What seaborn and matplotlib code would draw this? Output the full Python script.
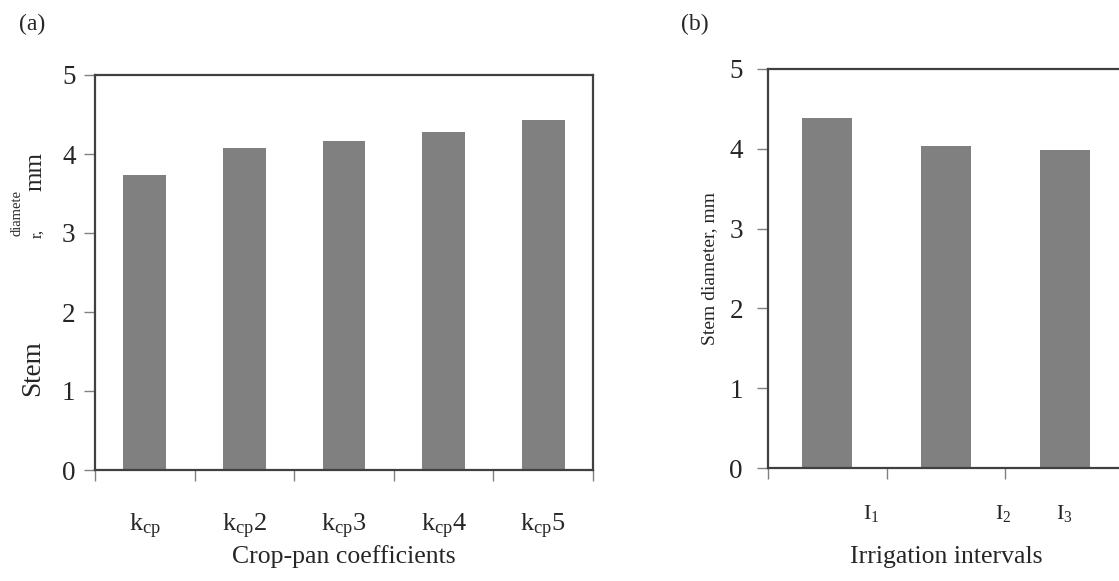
import matplotlib
matplotlib.use("Agg")
import matplotlib.pyplot as plt
import seaborn as sns
import pandas as pd

# ---- data ----
coef_labels = ["k$_{\\mathrm{cp}}$", "k$_{\\mathrm{cp}}$2", "k$_{\\mathrm{cp}}$3",
               "k$_{\\mathrm{cp}}$4", "k$_{\\mathrm{cp}}$5"]
coef_values = [3.73, 4.08, 4.16, 4.28, 4.43]

irr_labels = ["I$_{\\mathrm{1}}$", "I$_{\\mathrm{2}}$", "I$_{\\mathrm{3}}$"]
irr_values = [4.39, 4.04, 3.98]
irr_label_pos = [0.37, 1.48, 2.0]

yticks = [0, 1, 2, 3, 4, 5]

sns.set_theme(style="white")
plt.rcParams['font.family'] = ['Liberation Serif', 'DejaVu Serif']
plt.rcParams['mathtext.fontset'] = 'custom'
plt.rcParams['mathtext.rm'] = 'Liberation Serif'
plt.rcParams['mathtext.it'] = 'Liberation Serif:italic'

W, H = 1119, 581
fig = plt.figure(figsize=(W / 100, H / 100), dpi=100)

bar_color = "#808080"
spine_color = "#404040"
tick_color = "#808080"

def px_axes(l, t, r, b):
    return fig.add_axes([l / W, 1 - b / H, (r - l) / W, (b - t) / H])

# ---- panel (a) ----
ax1 = px_axes(95, 75, 593, 470)
df1 = pd.DataFrame({"cat": [str(i) for i in range(len(coef_values))], "val": coef_values})
sns.barplot(data=df1, x="cat", y="val", color=bar_color, saturation=1, width=0.43,
            ax=ax1, edgecolor="none")
ax1.set_xlim(-0.5, len(coef_values) - 0.5)
ax1.set_ylim(0, 5)
ax1.set_yticks(yticks)
ax1.set_yticklabels([str(v) for v in yticks], fontsize=19.5)
ax1.set_xticks([i - 0.5 for i in range(len(coef_values) + 1)])
ax1.set_xticklabels([])
ax1.set_xticks(list(range(len(coef_values))), minor=True)
ax1.set_xticklabels(coef_labels, minor=True, fontsize=19)
ax1.tick_params(axis="x", which="minor", length=0, pad=30)
ax1.tick_params(axis="x", which="major", direction="out", length=8, width=1, color=tick_color, bottom=True)
ax1.tick_params(axis="y", direction="out", length=8, width=1, color=tick_color, left=True, pad=6)
ax1.set_xlabel("Crop-pan coefficients", fontsize=18.5, labelpad=3)
ax1.set_ylabel("")
for s in ax1.spines.values():
    s.set_visible(True)
    s.set_color(spine_color)
    s.set_linewidth(1.6)

# garbled y-label pieces of panel (a)
fig.text(33 / W, 1 - 368 / H, "Stem", rotation=90, fontsize=19.5, ha="center", va="center")
fig.text(37 / W, 1 - 234 / H, "r,", rotation=90, fontsize=12, ha="center", va="center")
fig.text(35 / W, 1 - 171 / H, "mm", rotation=90, fontsize=18, ha="center", va="center")
fig.text(17 / W, 1 - 213 / H, "diamete", rotation=90, fontsize=10.5, ha="center", va="center")

# ---- panel (b) ----
ax2 = px_axes(768, 69, 1124, 468)
df2 = pd.DataFrame({"cat": [str(i) for i in range(len(irr_values))], "val": irr_values})
sns.barplot(data=df2, x="cat", y="val", color=bar_color, saturation=1, width=0.42,
            ax=ax2, edgecolor="none")
ax2.set_xlim(-0.5, len(irr_values) - 0.5)
ax2.set_ylim(0, 5)
ax2.set_yticks(yticks)
ax2.set_yticklabels([str(v) for v in yticks], fontsize=19.5)
ax2.set_xticks([i - 0.5 for i in range(len(irr_values) + 1)])
ax2.set_xticklabels([])
ax2.set_xticks(irr_label_pos, minor=True)
ax2.set_xticklabels(irr_labels, minor=True, fontsize=16)
ax2.tick_params(axis="x", which="minor", length=0, pad=25)
ax2.tick_params(axis="x", which="major", direction="out", length=8, width=1, color=tick_color, bottom=True)
ax2.tick_params(axis="y", direction="out", length=8, width=1, color=tick_color, left=True, pad=10)
ax2.set_xlabel("Irrigation intervals", fontsize=18.5, labelpad=16)
ax2.set_ylabel("Stem diameter, mm", fontsize=14, labelpad=8)
for s in ax2.spines.values():
    s.set_visible(True)
    s.set_color(spine_color)
    s.set_linewidth(1.6)

fig.text(32 / W, 1 - 24 / H, "(a)", fontsize=17, ha="center", va="center")
fig.text(695 / W, 1 - 24 / H, "(b)", fontsize=17, ha="center", va="center")

fig.savefig("out.png", dpi=100)
